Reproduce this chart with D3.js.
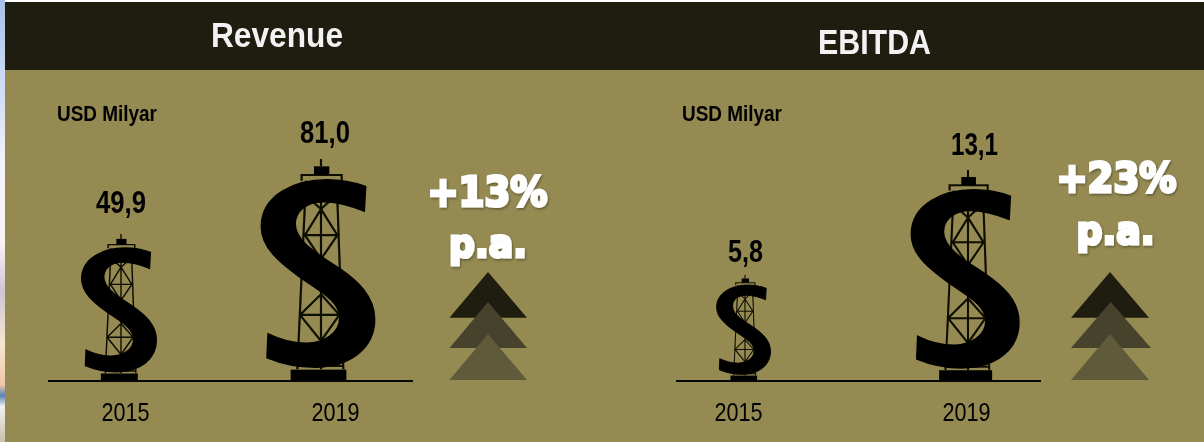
<!DOCTYPE html>
<html><head><meta charset="utf-8">
<style>html,body{margin:0;padding:0;background:#fff;overflow:hidden}svg{display:block}
text{font-family:"Liberation Sans",Arial,sans-serif}</style>
<script src="https://cdn.jsdelivr.net/npm/d3@7"></script></head><body>
<script>
const panelTitles = ["Revenue", "EBITDA"];
const years = ["2015", "2019"];
const revenueValues = [49.9, 81.0];
const ebitdaValues = [5.8, 13.1];
const growthLabels = ["+13%", "+23%"];
const unitLabel = "USD Milyar";
const periodLabel = "p.a.";

const W = 1204, H = 442, baseY = 381;
const fmt = v => v.toFixed(1).replace(".", ",");
const svg = d3.select("body").append("svg").attr("width", W).attr("height", H);
const defs = svg.append("defs");

const grad = defs.append("linearGradient").attr("id","strip").attr("x1",0).attr("y1",0).attr("x2",0).attr("y2",1);
[[0,"#a8c0e8"],[.2,"#d0dcf4"],[.38,"#f6f4fb"],[.55,"#f8f2f6"],[.66,"#cfc6d2"],[.78,"#f6e6cf"],[.87,"#f0c8a8"],[.895,"#5c84b8"],[.92,"#f2f2ee"],[1,"#c8c0ac"]]
  .forEach(([o,c])=>grad.append("stop").attr("offset",o).attr("stop-color",c));
const shadow = defs.append("filter").attr("id","sh").attr("x","-20%").attr("y","-20%").attr("width","140%").attr("height","140%");
shadow.append("feDropShadow").attr("dx",1).attr("dy",1.5).attr("stdDeviation",1).attr("flood-color","#000").attr("flood-opacity",.35);
const soft = defs.append("filter").attr("id","soft").attr("x","-10%").attr("y","-10%").attr("width","120%").attr("height","120%");
soft.append("feGaussianBlur").attr("stdDeviation",.45);

svg.append("rect").attr("width",W).attr("height",H).attr("fill","#fff");
svg.append("rect").attr("x",0).attr("y",0).attr("width",5).attr("height",H).attr("fill","url(#strip)");
svg.append("rect").attr("x",5).attr("y",2).attr("width",W-5).attr("height",H-2).attr("fill","#948a52");
svg.append("rect").attr("x",5).attr("y",2).attr("width",W-5).attr("height",68).attr("fill","#1f1c10");

// glyph units: pole at x=243, ground at y=690, total height 665
const GLYPH_H = 665;
const sPath = "M376,108C340,95 300,88 260,88C170,88 65,130 65,228C65,290 120,335 180,378C240,420 300,450 300,500C300,550 250,575 200,578C160,578 115,565 85,550L82,620C130,640 180,648 225,648C330,648 403,590 403,505C403,435 350,390 300,355C240,315 165,275 165,220C165,180 200,152 250,152C295,152 335,165 372,180Z";
const towerPath = "M243,25V47M185,90V73H305V90M198,90L172,655M290,90L310,655M243,90V655"
 + "M243,175L292,253L243,325L195,253ZM195,253H292M215,150L243,175L270,150"
 + "M243,430L298,492L243,570L180,492ZM180,492H298M243,570L190,640M243,570L300,640M175,645H308";

const panels = [
 {title:panelTitles[0], tx:277, tw:132, tb:47, values:revenueValues, sizeRange:[147,222], iconX:[121,321], yearX:[125,335], labelX:[121,325], labelGap:[21,16], labelW:[50,50], line:[48,413], unitX:57, growth:growthLabels[0], gx:487.5, gy:205.5, pax:488, pay:257, tri:[[488,449.5,527],[488,449.5,527],[488,449.5,527]]},
 {title:panelTitles[1], tx:874.5, tw:113, tb:54, values:ebitdaValues, sizeRange:[106,211], iconX:[745,968], yearX:[738,966], labelX:[745.5,974.5], labelGap:[13,15], labelW:[35,47], line:[676,1041], unitX:682, growth:growthLabels[1], gx:1116.5, gy:192, pax:1115.5, pay:244, tri:[[1110,1071,1149],[1110.7,1071,1151],[1110,1071,1149]]}
];
const triLevels = [[272,317.7,"#1f1c10"],[302,348,"#47422b"],[334,380,"#5f5a39"]];
const triLine = d3.line();

panels.forEach(p => {
  const g = svg.append("g");
  g.append("text").text(p.title).attr("x",p.tx).attr("y",p.tb).attr("text-anchor","middle")
   .attr("fill","#f2f2f2").attr("font-weight",700).attr("font-size",35).attr("filter","url(#soft)")
   .attr("textLength",p.tw).attr("lengthAdjust","spacingAndGlyphs");
  g.append("text").text(unitLabel).attr("x",p.unitX).attr("y",120.5)
   .attr("fill","#060606").attr("font-weight",700).attr("font-size",22).attr("filter","url(#soft)")
   .attr("textLength",100).attr("lengthAdjust","spacingAndGlyphs");

  const size = d3.scaleLinear().domain(p.values).range(p.sizeRange);
  const iconX = d3.scalePoint().domain(years).range(p.iconX);
  const labelX = d3.scalePoint().domain(years).range(p.labelX);
  const yearX = d3.scalePoint().domain(years).range(p.yearX);

  years.forEach((y,i) => {
    const h = size(p.values[i]), k = h/GLYPH_H;
    const icon = g.append("g").attr("filter","url(#soft)")
      .attr("transform",`translate(${iconX(y)},${baseY}) scale(${k}) translate(-243,-690)`);
    icon.append("path").attr("d",towerPath).attr("fill","none").attr("stroke","#0a0a06").attr("stroke-width",6.5);
    icon.append("rect").attr("x",222).attr("y",47).attr("width",46).attr("height",26).attr("fill","#060606");
    icon.append("rect").attr("x",152).attr("y",656).attr("width",167).attr("height",34).attr("fill","#060606");
    icon.append("path").attr("d",sPath).attr("fill","#060606").attr("stroke","#060606").attr("stroke-width",6).attr("stroke-linejoin","miter");
    g.append("text").text(fmt(p.values[i])).attr("x",labelX(y)).attr("y",baseY-h-p.labelGap[i])
     .attr("text-anchor","middle").attr("fill","#060606").attr("font-weight",700).attr("font-size",31).attr("filter","url(#soft)")
     .attr("textLength",p.labelW[i]).attr("lengthAdjust","spacingAndGlyphs");
  });

  const axis = d3.axisBottom(yearX).tickSize(0).tickPadding(0);
  const ax = g.append("g").attr("transform","translate(0,398)").call(axis);
  ax.select(".domain").remove();
  ax.selectAll("text").attr("fill","#060606").attr("font-size",26).attr("dy",0).attr("y",23)
    .attr("filter","url(#soft)")
    .style("font-family",'"Liberation Sans",Arial,sans-serif')
    .attr("textLength",48).attr("lengthAdjust","spacingAndGlyphs");
  g.append("line").attr("x1",p.line[0]).attr("x2",p.line[1]).attr("y1",baseY).attr("y2",baseY)
   .attr("stroke","#060606").attr("stroke-width",2);

  triLevels.forEach((t,i) => {
    const [ax_,l,r] = p.tri[i];
    g.append("path").attr("d",triLine([[ax_,t[0]],[r,t[1]],[l,t[1]]])+"Z").attr("fill",t[2]);
  });

  g.append("text").text(p.growth).attr("x",p.gx).attr("y",p.gy)
   .attr("text-anchor","middle").attr("fill","#fff").attr("stroke","#fff").attr("stroke-width",3)
   .attr("font-weight",700).attr("font-size",40).attr("filter","url(#sh)")
   .style("font-family",'"DejaVu Sans",sans-serif')
   .attr("textLength",120).attr("lengthAdjust","spacingAndGlyphs");
  g.append("text").text(periodLabel).attr("x",p.pax).attr("y",p.pay)
   .attr("text-anchor","middle").attr("fill","#fff").attr("stroke","#fff").attr("stroke-width",3)
   .attr("font-weight",700).attr("font-size",39).attr("filter","url(#sh)")
   .style("font-family",'"DejaVu Sans",sans-serif')
   .attr("textLength",78).attr("lengthAdjust","spacingAndGlyphs");
});
</script></body></html>
